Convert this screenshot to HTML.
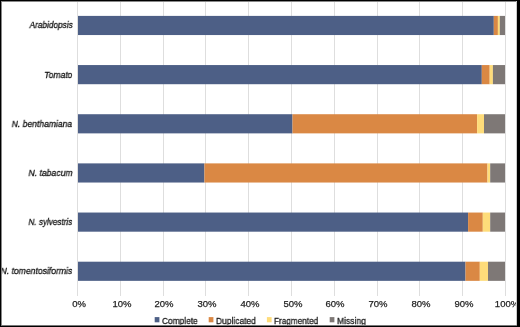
<!DOCTYPE html>
<html><head><meta charset="utf-8"><style>
html,body{margin:0;padding:0;background:#fff;}
body{width:520px;height:327px;position:relative;overflow:hidden;-webkit-font-smoothing:antialiased;font-family:"Liberation Sans",sans-serif;color:#404040;}
svg.bg{position:absolute;left:0;top:0;}
svg.fg{position:absolute;left:0;top:0;}
.yl{will-change:transform;position:absolute;right:447.5px;height:12px;line-height:12px;font-size:9.5px;font-style:italic;white-space:nowrap;color:#111;-webkit-text-stroke:0.3px #111;transform-origin:right center;}
.xl{will-change:transform;position:absolute;top:298px;width:40px;text-align:center;font-size:9.5px;line-height:12px;color:#1e1e1e;-webkit-text-stroke:0.25px #1e1e1e;transform:scaleX(1.0);}
.lt{will-change:transform;position:absolute;top:314.5px;font-size:9.5px;line-height:12px;white-space:nowrap;color:#1a1a1a;-webkit-text-stroke:0.3px #1a1a1a;transform-origin:left center;}
</style></head><body>
<svg class="bg" width="520" height="327" viewBox="0 0 520 327">
<rect x="77" y="2" width="1" height="294" fill="#dedede"/>
<rect x="120" y="2" width="1" height="294" fill="#dedede"/>
<rect x="163" y="2" width="1" height="294" fill="#dedede"/>
<rect x="205" y="2" width="1" height="294" fill="#dedede"/>
<rect x="248" y="2" width="1" height="294" fill="#dedede"/>
<rect x="291" y="2" width="1" height="294" fill="#dedede"/>
<rect x="334" y="2" width="1" height="294" fill="#dedede"/>
<rect x="377" y="2" width="1" height="294" fill="#dedede"/>
<rect x="419" y="2" width="1" height="294" fill="#dedede"/>
<rect x="462" y="2" width="1" height="294" fill="#dedede"/>
<rect x="505" y="2" width="1" height="294" fill="#dedede"/>
<rect x="78.00" y="15.90" width="415.80" height="19.15" fill="#4d5f86"/>
<rect x="493.80" y="15.90" width="4.10" height="19.15" fill="#da8844"/>
<rect x="497.90" y="15.90" width="1.90" height="19.15" fill="#fedc7a"/>
<rect x="499.80" y="15.90" width="5.20" height="19.15" fill="#7e7876"/>
<rect x="78.00" y="65.06" width="403.80" height="19.15" fill="#4d5f86"/>
<rect x="481.80" y="65.06" width="7.90" height="19.15" fill="#da8844"/>
<rect x="489.70" y="65.06" width="3.20" height="19.15" fill="#fedc7a"/>
<rect x="492.90" y="65.06" width="12.10" height="19.15" fill="#7e7876"/>
<rect x="78.00" y="114.22" width="214.50" height="19.15" fill="#4d5f86"/>
<rect x="292.50" y="114.22" width="184.60" height="19.15" fill="#da8844"/>
<rect x="477.10" y="114.22" width="6.90" height="19.15" fill="#fedc7a"/>
<rect x="484.00" y="114.22" width="21.00" height="19.15" fill="#7e7876"/>
<rect x="78.00" y="163.38" width="126.40" height="19.15" fill="#4d5f86"/>
<rect x="204.40" y="163.38" width="283.10" height="19.15" fill="#da8844"/>
<rect x="487.50" y="163.38" width="2.70" height="19.15" fill="#fedc7a"/>
<rect x="490.20" y="163.38" width="14.80" height="19.15" fill="#7e7876"/>
<rect x="78.00" y="212.54" width="390.10" height="19.15" fill="#4d5f86"/>
<rect x="468.10" y="212.54" width="14.70" height="19.15" fill="#da8844"/>
<rect x="482.80" y="212.54" width="7.40" height="19.15" fill="#fedc7a"/>
<rect x="490.20" y="212.54" width="14.80" height="19.15" fill="#7e7876"/>
<rect x="78.00" y="261.70" width="387.50" height="19.15" fill="#4d5f86"/>
<rect x="465.50" y="261.70" width="14.30" height="19.15" fill="#da8844"/>
<rect x="479.80" y="261.70" width="8.20" height="19.15" fill="#fedc7a"/>
<rect x="488.00" y="261.70" width="17.00" height="19.15" fill="#7e7876"/>
<rect x="154.70" y="317.1" width="4.7" height="5.2" fill="#4d5f86"/>
<rect x="208.70" y="317.1" width="4.7" height="5.2" fill="#da8844"/>
<rect x="266.90" y="317.1" width="4.7" height="5.2" fill="#fedc7a"/>
<rect x="329.70" y="317.1" width="4.7" height="5.2" fill="#7e7876"/>
</svg>
<div class="yl" style="top:19.48px;transform:scaleX(0.867)">Arabidopsis</div>
<div class="yl" style="top:68.64px;transform:scaleX(0.898)">Tomato</div>
<div class="yl" style="top:117.80px;transform:scaleX(0.9)">N. benthamiana</div>
<div class="yl" style="top:166.95px;transform:scaleX(0.908)">N. tabacum</div>
<div class="yl" style="top:216.11px;transform:scaleX(0.854)">N. sylvestris</div>
<div class="yl" style="top:265.27px;transform:scaleX(0.904)">N. tomentosiformis</div>
<div class="xl" style="left:58.80px">0%</div>
<div class="xl" style="left:101.58px">10%</div>
<div class="xl" style="left:144.36px">20%</div>
<div class="xl" style="left:187.14px">30%</div>
<div class="xl" style="left:229.92px">40%</div>
<div class="xl" style="left:272.70px">50%</div>
<div class="xl" style="left:315.48px">60%</div>
<div class="xl" style="left:358.26px">70%</div>
<div class="xl" style="left:401.04px">80%</div>
<div class="xl" style="left:443.82px">90%</div>
<div class="xl" style="left:486.60px">100%</div>
<div class="lt" style="left:161.90px;transform:scaleX(0.88)">Complete</div>
<div class="lt" style="left:216.10px;transform:scaleX(0.888)">Duplicated</div>
<div class="lt" style="left:273.70px;transform:scaleX(0.862)">Fragmented</div>
<div class="lt" style="left:336.60px;transform:scaleX(0.895)">Missing</div>
<svg class="fg" width="520" height="327" viewBox="0 0 520 327">
<rect x="0" y="1" width="520" height="1" fill="#888"/>
<rect x="1" y="0" width="1" height="327" fill="#888"/>
<rect x="516" y="0" width="1" height="327" fill="#ccc"/>
<rect x="0" y="325" width="520" height="1" fill="#777"/>
<rect x="0" y="0" width="520" height="1" fill="#000"/>
<rect x="0" y="0" width="1" height="327" fill="#000"/>
<rect x="517" y="0" width="3" height="327" fill="#000"/>
<rect x="0" y="326" width="520" height="1" fill="#000"/>
</svg>
</body></html>
